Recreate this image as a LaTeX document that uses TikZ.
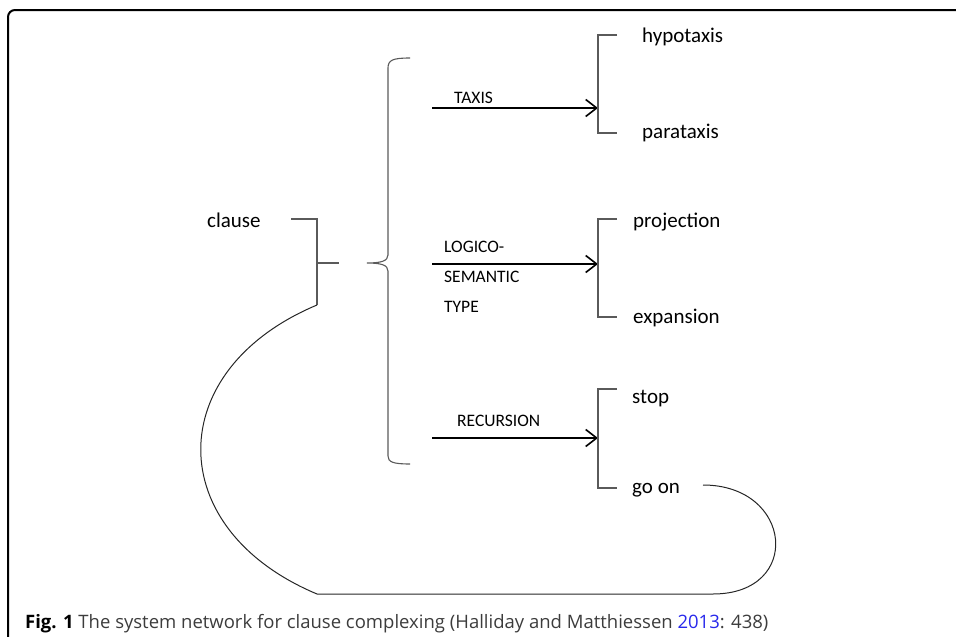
\documentclass[tikz,border=0pt]{standalone}
\usepackage{fontspec}
\usepackage{xcolor}
\usepackage{tikz}
\usetikzlibrary{arrows.meta}
\newfontfamily\netfont{Carlito}
\newfontfamily\capfont{Open Sans}
\definecolor{gateline}{RGB}{90, 90, 90}
\definecolor{capgray}{RGB}{60, 60, 60}
\definecolor{refblue}{RGB}{40, 40, 235}

\begin{document}
\begin{tikzpicture}[
    x=1pt, y=-1pt,
    term/.style={font=\netfont\fontsize{21}{25}\selectfont, anchor=base west, inner sep=0pt},
    sysname/.style={font=\netfont\fontsize{17.5}{21}\selectfont, anchor=base west, inner sep=0pt},
    sysarrow/.style={line width=1.6pt, -{Straight Barb[length=11pt, width=17pt]}},
    gate/.style={draw=gateline, line width=1.1pt},
    loopline/.style={draw=black!85, line width=1pt}
]
\useasboundingbox (0,0) rectangle (956,637);

% Frame
\draw[line width=2pt, rounded corners=7pt] (8,637) -- (8,10) -- (956,10);

% Entry: clause
\node[term] (clause) at (207,227) {clause};
\coordinate (cl-top) at (291,219);
\coordinate (cl-bot) at (317,305);
\coordinate (cl-out) at (339,263);
\draw[gate] (cl-top) -| (cl-bot);
\draw[gate] (317,263) -- (cl-out);

% Brace over the three systems
\draw[gate] (410,58) .. controls (393,58) and (388,60) .. (388,68) -- (388,255)
    .. controls (388,261) and (381,263) .. (367,263)
    .. controls (381,263) and (388,265) .. (388,271) -- (388,456)
    .. controls (388,462) and (393,464) .. (410,464);

% System names
\node[sysname] (taxis) at (454,103) {TAXIS};
\node[sysname] (logico) at (444,252) {LOGICO-};
\node[sysname] (semantic) at (444,282) {SEMANTIC};
\node[sysname] (type) at (444,312) {TYPE};
\node[sysname] (recursion) at (457,426) {RECURSION};

% Arrows into the choice brackets
\coordinate (taxis-in) at (432,108);
\coordinate (taxis-gate) at (598,108);
\coordinate (lst-in) at (432,264);
\coordinate (lst-gate) at (598,264);
\coordinate (rec-in) at (432,438);
\coordinate (rec-gate) at (598,438);
\draw[sysarrow] (taxis-in) -- (taxis-gate);
\draw[sysarrow] (lst-in) -- (lst-gate);
\draw[sysarrow] (rec-in) -- (rec-gate);

% Choice brackets
\draw[gate] (617,35) -| (598,133) -- (617,133);
\draw[gate] (617,219) -| (598,317) -- (617,317);
\draw[gate] (617,389) -| (598,488) -- (617,488);

% Features
\node[term] (hypotaxis) at (642,42) {hypotaxis};
\node[term] (parataxis) at (642,138) {parataxis};
\node[term] (projection) at (633,227) {projection};
\node[term] (expansion) at (633,323) {expansion};
\node[term] (stop) at (632,403) {stop};
\node[term] (goon) at (632,493) {go on};

% Loop from go on back to clause
\coordinate (goon-out) at (703,485);
\coordinate (loop-bl) at (317,594);
\coordinate (loop-br) at (713,594);
\draw[loopline] (cl-bot) .. controls +(-155,65) and +(-155,-65) .. (loop-bl)
    -- (loop-br) .. controls +(90,0) and +(90,0) .. (goon-out);

% Caption
\node[font=\capfont\fontsize{18.5}{21}\selectfont, text=capgray, anchor=base west, inner sep=0pt]
    (caption) at (25,628)
    {\textcolor{black}{\bfseries Fig. 1} The system network for clause complexing (Halliday and Matthiessen \textcolor{refblue}{2013}: 438)};

\end{tikzpicture}
\end{document}
